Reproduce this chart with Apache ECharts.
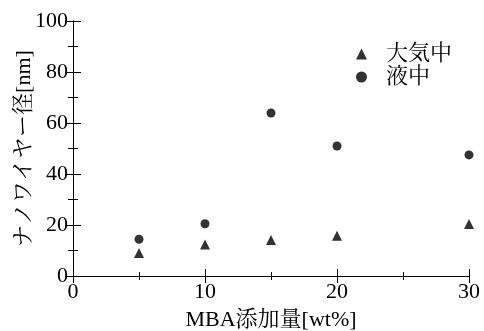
<!DOCTYPE html>
<html><head><meta charset="utf-8">
<script src="https://cdn.jsdelivr.net/npm/echarts@6/dist/echarts.min.js"></script>
<style>html,body{margin:0;padding:0;background:#fff}#c{width:484px;height:331px}</style>
</head><body><div id="c"></div>
<script>
var mbaWt = [5, 10, 15, 20, 30];
var airDiameter = [9.0, 12.4, 14.1, 15.8, 20.4];
var liquidDiameter = [14.4, 20.5, 63.9, 51.0, 47.5];
var seriesNames = ['大気中', '液中'];
var xTitle = 'MBA添加量[wt%]';
var yTitle = 'ナノワイヤー径[nm]';

var FONT = '"Liberation Serif", "Noto Serif CJK JP", serif';
function pairs(xs, ys){ return xs.map(function(x,i){ return [x, ys[i]]; }); }

var axisLineStyle = {color:'#000', width:1};
var chart = echarts.init(document.getElementById('c'), null, {renderer:'canvas'});
chart.setOption({
  animation:false,
  backgroundColor:'#fff',
  textStyle:{fontFamily:FONT, color:'#000'},
  grid:{left:73, right:15, top:21, bottom:55, containLabel:false, outerBoundsMode:'none'},
  legend:{
    orient:'vertical', left:351, top:38, itemGap:1,
    itemWidth:11, itemHeight:11,
    textStyle:{fontFamily:FONT, fontSize:22, color:'#000', padding:[0,0,0,14], lineHeight:22},
    data:[{name:seriesNames[0], icon:'triangle'},{name:seriesNames[1], icon:'circle'}]
  },
  xAxis:[{
    type:'value', min:0, max:30, interval:10, position:'bottom',
    name:xTitle, nameLocation:'middle', nameGap:33, nameMoveOverlap:false,
    nameTextStyle:{fontFamily:FONT, fontSize:22, color:'#000'},
    axisLine:{show:true, lineStyle:axisLineStyle},
    axisTick:{show:true, inside:true, length:7, lineStyle:axisLineStyle},
    minorTick:{show:true, splitNumber:2, length:4, lineStyle:axisLineStyle},
    axisLabel:{fontFamily:FONT, fontSize:22, color:'#000', margin:5},
    splitLine:{show:false}
  },{
    type:'value', min:0, max:30, interval:10, position:'top',
    axisLine:{show:true, lineStyle:axisLineStyle},
    axisTick:{show:true, inside:true, length:7, lineStyle:axisLineStyle},
    minorTick:{show:true, splitNumber:2, length:4, lineStyle:axisLineStyle},
    axisLabel:{show:false}, splitLine:{show:false}
  }],
  yAxis:[{
    type:'value', min:0, max:100, interval:20, position:'left',
    name:yTitle, nameLocation:'middle', nameGap:38, nameRotate:90, nameMoveOverlap:false,
    nameTextStyle:{fontFamily:FONT, fontSize:22, color:'#000'},
    axisLine:{show:true, lineStyle:axisLineStyle},
    axisTick:{show:true, inside:true, length:8, lineStyle:axisLineStyle},
    minorTick:{show:true, splitNumber:2, length:5, lineStyle:axisLineStyle},
    axisLabel:{fontFamily:FONT, fontSize:22, color:'#000', margin:5},
    splitLine:{show:false}
  },{
    type:'value', min:0, max:100, interval:20, position:'right',
    axisLine:{show:true, lineStyle:axisLineStyle},
    axisTick:{show:true, inside:true, length:8, lineStyle:axisLineStyle},
    minorTick:{show:true, splitNumber:2, length:5, lineStyle:axisLineStyle},
    axisLabel:{show:false}, splitLine:{show:false}
  }],
  series:[{
    name:seriesNames[0], type:'scatter', symbol:'triangle', symbolSize:10,
    itemStyle:{color:'#000'}, data:pairs(mbaWt, airDiameter)
  },{
    name:seriesNames[1], type:'scatter', symbol:'circle', symbolSize:9,
    itemStyle:{color:'#000'}, data:pairs(mbaWt, liquidDiameter)
  }]
});
</script></body></html>
